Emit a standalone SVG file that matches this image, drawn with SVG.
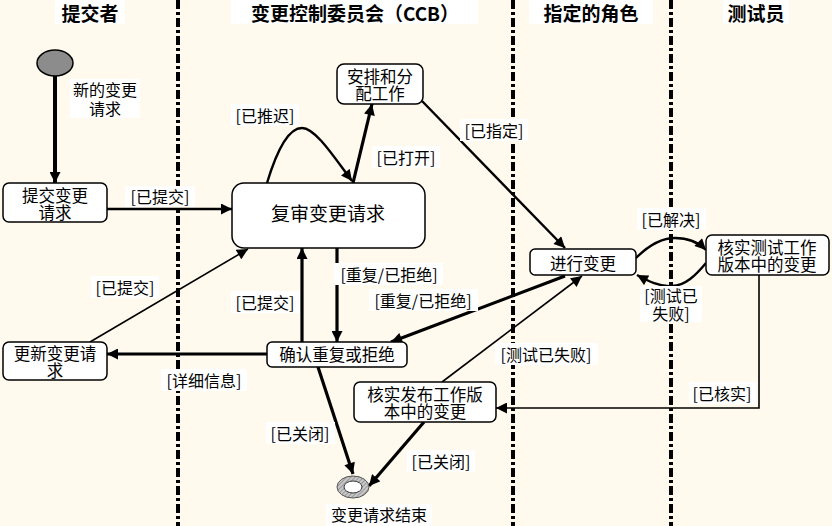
<svg xmlns="http://www.w3.org/2000/svg" width="832" height="526" viewBox="0 0 832 526">
<style>
text{font-family:"Noto Sans CJK SC","Noto Sans",sans-serif;fill:#000;text-anchor:middle;dominant-baseline:central}
.hd{font-size:19px;font-weight:bold}
.nt{font-size:16.5px}
.lb{font-size:16px}
.node{fill:#fff;stroke:#000;stroke-width:1.5}
.bg{fill:#fff;stroke:none}
.lane{stroke:#000;stroke-width:4;stroke-dasharray:9 3 3 3;fill:none}
.thick{stroke:#000;stroke-width:3.2;fill:none;marker-end:url(#ah)}
.mid{stroke:#000;stroke-width:2.4;fill:none;marker-end:url(#ah)}
.thin{stroke:#000;stroke-width:1.6;fill:none;marker-end:url(#ah)}
</style>
<defs>
<marker id="ah" viewBox="0 0 10 10" refX="10" refY="5" markerWidth="12" markerHeight="11" markerUnits="userSpaceOnUse" orient="auto">
<path d="M0,0 L10,5 L0,10 z" fill="#000"/>
</marker>
<pattern id="hatch" width="3" height="3" patternUnits="userSpaceOnUse" patternTransform="rotate(45)">
<rect width="3" height="3" fill="#c8c8c8"/>
<line x1="0" y1="0" x2="0" y2="3" stroke="#777" stroke-width="1.2"/>
</pattern>
</defs>
<rect width="832" height="526" fill="#FFF9EE"/>

<g id="lanes">
<line class="lane" x1="178" y1="0" x2="178" y2="526"/>
<line class="lane" x1="513" y1="0" x2="513" y2="526"/>
<line class="lane" x1="671" y1="0" x2="671" y2="526"/>
<rect class="bg" x="55" y="0" width="70" height="24"/>
<text class="hd" x="90" y="12">提交者</text>
<rect class="bg" x="231" y="0" width="247" height="24"/>
<text class="hd" x="355" y="12">变更控制委员会（CCB）</text>
<rect class="bg" x="529" y="0" width="124" height="24"/>
<text class="hd" x="591" y="12">指定的角色</text>
<rect class="bg" x="723" y="0" width="66" height="24"/>
<text class="hd" x="756" y="12">测试员</text>
</g>

<g id="connectors">
<line class="thick" x1="55" y1="76" x2="55" y2="183" style="stroke-width:4"/>
<line class="mid" x1="107" y1="209" x2="232" y2="209"/>
<path class="mid" d="M267,183 C280,140 292,128 302,128 C316,128 336,160 352,181"/>
<line class="thick" x1="353" y1="183" x2="372" y2="104"/>
<line class="mid" x1="422" y1="101" x2="565" y2="248"/>
<path class="mid" d="M636,258 C648,246 662,238 675,238 C690,238 700,244 706,250"/>
<path class="mid" d="M706,263 C696,275 685,286 672,286 C660,287 648,281 637,275"/>
<path class="thin" d="M759,275 L759,408 L496,408"/>
<line class="thin" x1="442" y1="382" x2="582" y2="276"/>
<line class="thick" x1="565" y1="276" x2="391" y2="342"/>
<line class="thick" x1="337" y1="248" x2="337" y2="342"/>
<line class="thick" x1="302" y1="342" x2="302" y2="248"/>
<line class="thick" x1="267" y1="354" x2="107" y2="354"/>
<line class="thin" x1="90" y1="342" x2="248" y2="249"/>
<line class="thick" x1="318" y1="367" x2="353" y2="474"/>
<line class="thick" x1="424" y1="422" x2="369" y2="486"/>
</g>

<g id="labels">
<rect class="bg" x="70" y="79" width="70" height="39"/>
<text class="lb" x="105" y="89">新的变更<tspan x="105" dy="19">请求</tspan></text>
<rect class="bg" x="125" y="186" width="70" height="21"/>
<text class="lb" x="160" y="196">[已提交]</text>
<rect class="bg" x="231" y="104" width="68" height="22"/>
<text class="lb" x="265" y="115">[已推迟]</text>
<rect class="bg" x="372" y="146" width="68" height="22"/>
<text class="lb" x="406" y="157">[已打开]</text>
<rect class="bg" x="460" y="119" width="68" height="22"/>
<text class="lb" x="494" y="130">[已指定]</text>
<rect class="bg" x="637" y="208" width="69" height="22"/>
<text class="lb" x="671" y="219">[已解决]</text>
<rect class="bg" x="640" y="286" width="62" height="36"/>
<text class="lb" x="671" y="295">[测试已<tspan x="671" dy="18">失败]</tspan></text>
<rect class="bg" x="334" y="263" width="109" height="22"/>
<text class="lb" x="389" y="274">[重复/已拒绝]</text>
<rect class="bg" x="369" y="289" width="109" height="22"/>
<text class="lb" x="423" y="300">[重复/已拒绝]</text>
<rect class="bg" x="231" y="291" width="69" height="22"/>
<text class="lb" x="265" y="302">[已提交]</text>
<rect class="bg" x="91" y="276" width="68" height="22"/>
<text class="lb" x="125" y="287">[已提交]</text>
<rect class="bg" x="161" y="369" width="86" height="22"/>
<text class="lb" x="204" y="380">[详细信息]</text>
<rect class="bg" x="495" y="343" width="103" height="22"/>
<text class="lb" x="546" y="354">[测试已失败]</text>
<rect class="bg" x="689" y="382" width="67" height="22"/>
<text class="lb" x="722" y="393">[已核实]</text>
<rect class="bg" x="266" y="422" width="69" height="22"/>
<text class="lb" x="300" y="433">[已关闭]</text>
<rect class="bg" x="407" y="450" width="68" height="22"/>
<text class="lb" x="441" y="461">[已关闭]</text>
</g>

<g id="start">
<ellipse cx="55" cy="63" rx="18" ry="13" fill="#8c8c8c" stroke="#000" stroke-width="1.5"/>
</g>
<g id="submit">
<rect class="node" x="3" y="183" width="104" height="39" rx="6"/>
<text class="nt" x="55" y="195">提交变更<tspan x="55" dy="17">请求</tspan></text>
</g>
<g id="review">
<rect class="node" x="232" y="183" width="193" height="65" rx="12"/>
<text x="328" y="212" style="font-size:19px">复审变更请求</text>
</g>
<g id="assign">
<rect class="node" x="337" y="64" width="86" height="40" rx="7"/>
<text class="nt" x="380" y="76">安排和分<tspan x="380" dy="17">配工作</tspan></text>
</g>
<g id="make">
<rect class="node" x="530" y="249" width="106" height="26" rx="5"/>
<text class="nt" x="583" y="263">进行变更</text>
</g>
<g id="verifytest">
<rect class="node" x="706" y="235" width="123" height="40" rx="6"/>
<text class="nt" x="767" y="247">核实测试工作<tspan x="767" dy="17">版本中的变更</tspan></text>
</g>
<g id="confirm">
<rect class="node" x="267" y="342" width="140" height="25" rx="5"/>
<text class="nt" x="337" y="354">确认重复或拒绝</text>
</g>
<g id="update">
<rect class="node" x="3" y="342" width="104" height="38" rx="6"/>
<text class="nt" x="55" y="353">更新变更请<tspan x="55" dy="17">求</tspan></text>
</g>
<g id="verifyrelease">
<rect class="node" x="354" y="382" width="142" height="40" rx="6"/>
<text class="nt" x="425" y="394">核实发布工作版<tspan x="425" dy="17">本中的变更</tspan></text>
</g>
<g id="end">
<ellipse cx="353" cy="487" rx="16" ry="11" fill="url(#hatch)" stroke="#555" stroke-width="1"/>
<ellipse cx="353" cy="487" rx="9" ry="6" fill="#fff" stroke="#333" stroke-width="1"/>
<rect class="bg" x="326" y="504" width="106" height="22"/>
<text class="lb" x="379" y="514">变更请求结束</text>
</g>
</svg>
